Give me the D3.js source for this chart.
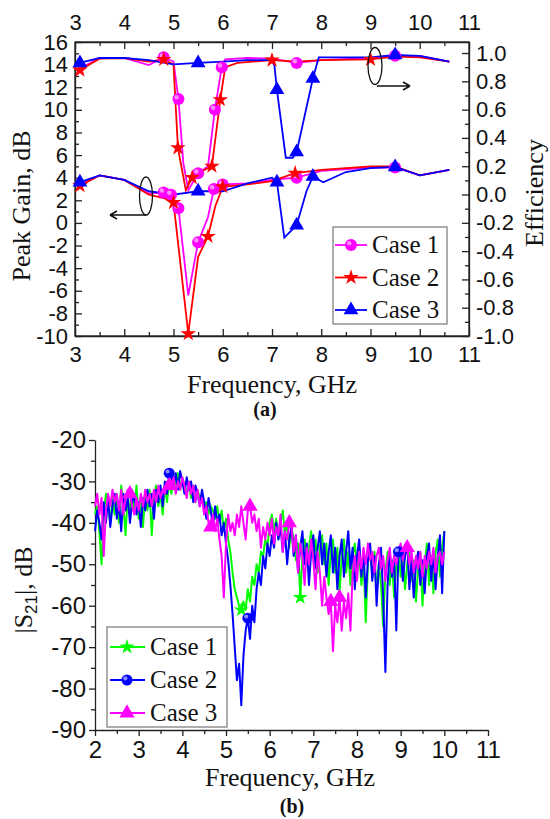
<!DOCTYPE html>
<html>
<head>
<meta charset="utf-8">
<script src="https://cdn.jsdelivr.net/npm/d3@7"></script>
<style>
body { margin: 0; background: #fff; }
</style>
</head>
<body>
<svg width="550" height="819"></svg>
<script>
// ---- data, panel (a): [GHz, value, marker?] ----
var effCase1 = [[3.1,0.89],[3.5,0.965],[4.0,0.965],[4.5,0.915],[4.8,0.97,1],[5.0,0.94],[5.1,0.675,1],[5.2,0.22],[5.3,0.03],
    [5.5,0.15,1],[5.7,0.2],[5.84,0.6,1],[5.98,0.9,1],[6.05,0.955],[6.5,0.965],[7.0,0.96],[7.5,0.93,1],[8.0,0.95],
    [9.0,0.965],[9.5,0.98,1],[10.0,0.98],[10.6,0.94]];
var effCase2 = [[3.1,0.88,1],[3.5,0.96],[4.0,0.965],[4.5,0.94],[4.8,0.955,1],[5.0,0.92],[5.09,0.33,1],[5.25,0.03],
    [5.38,0.12,1],[5.55,0.16],[5.78,0.2,1],[5.95,0.67,1],[6.05,0.9],[6.3,0.93],[7.0,0.95,1],[7.5,0.94],[8.0,0.95],
    [9.0,0.955,1],[9.5,0.975],[10.0,0.97],[10.6,0.94]];
var effCase3 = [[3.1,0.93,1],[3.5,0.965],[4.0,0.965],[4.5,0.95],[5.0,0.92],[5.5,0.93,1],[6.0,0.94],[6.5,0.95],[7.0,0.95],
    [7.05,0.91],[7.1,0.74,1],[7.28,0.26],[7.42,0.26],[7.5,0.3,1],[7.83,0.82,1],[7.95,0.97],[8.5,0.97],[9.0,0.97],
    [9.5,0.986,1],[10.0,0.98],[10.6,0.94]];

var gainCase1 = [[3.1,3.4],[3.5,4.2],[4.0,3.8],[4.5,2.6],[4.8,2.7,1],[4.95,2.5,1],[5.1,1.3,1],[5.3,-6.4],[5.5,-1.7,1],
    [5.7,0.5],[5.82,3.0,1],[6.0,3.4,1],[6.5,3.5],[7.0,3.8],[7.5,4.0,1],[8.0,4.6],[9.0,4.9],[9.5,4.9,1],[10.0,4.2],[10.6,4.7]];
var gainCase2 = [[3.1,3.3,1],[3.5,4.2],[4.0,3.8],[4.5,2.5],[4.8,2.2],[5.0,1.8,1],[5.3,-9.8,1],[5.5,-3.0],[5.7,-1.2,1],
    [5.85,1.5],[6.0,3.2,1],[6.5,3.4],[7.0,3.7],[7.47,4.4,1],[8.0,4.7],[9.0,5.0],[9.5,5.0],[10.0,4.2],[10.6,4.7]];
var gainCase3 = [[3.1,3.6,1],[3.5,4.2],[4.0,3.8],[4.5,2.8],[5.0,2.5],[5.5,2.8,1],[6.0,2.8],[6.5,3.5],[7.0,4.0],
    [7.1,3.6,1],[7.25,-1.3],[7.5,-0.2,1],[7.7,2.8],[7.83,4.1,1],[8.04,3.6],[8.5,4.5],[9.0,4.85],[9.5,4.95,1],[10.0,4.2],[10.6,4.7]];

var xTicksA = [3, 4, 5, 6, 7, 8, 9, 10, 11];
var gainTicks = [-10, -8, -6, -4, -2, 0, 2, 4, 6, 8, 10, 12, 14, 16];
var effTicks = [-1.0, -0.8, -0.6, -0.4, -0.2, 0.0, 0.2, 0.4, 0.6, 0.8, 1.0];
var legendA = ["Case 1", "Case 2", "Case 3"];

// ---- data, panel (b): |S21| in dB, sampled every 0.05 GHz from 2 GHz ----
var s21Start = 2.0, s21Step = 0.05;
var s21Case1 = [-38,-36,-42,-50,-38,-33,-36,-40,-34,-38,-33,-40,-31,-36,-43,-33,-38,-32,-37,-31,
    -39,-35,-41,-33,-37,-32,-43,-34,-31,-36,-33,-38,-31,-35,-30,-33,-29,-31,-28,-32,
    -29,-31,-33,-30,-34,-31,-35,-32,-34,-33,-36,-35,-38,-36,-37,-39,-36,-40,-37,-42,
    -39,-44,-47,-52,-56,-58,-60,-61,-59,-61,-56,-59,-53,-55,-50,-52,-47,-48,-44,-46,
    -40,-38,-42,-39,-44,-40,-37,-43,-40,-46,-41,-44,-49,-45,-58,-48,-44,-50,-46,-42,
    -48,-44,-52,-46,-43,-50,-45,-55,-47,-44,-52,-46,-57,-48,-44,-52,-47,-55,-48,-45,
    -51,-47,-55,-49,-64,-50,-46,-53,-47,-57,-50,-55,-65,-52,-47,-55,-49,-58,-50,-46,
    -53,-48,-56,-50,-46,-54,-49,-59,-51,-47,-60,-50,-45,-55,-48,-57,-47,-44,-53,-46,-42];
var s21Case2 = [-42,-37,-40,-44,-35,-40,-34,-41,-36,-33,-39,-35,-42,-33,-37,-34,-40,-35,-33,-38,
    -35,-41,-34,-37,-32,-36,-33,-39,-32,-35,-31,-36,-30,-33,-28,-29,-31,-28,-32,-27.5,
    -30,-33,-29,-32,-30,-35,-31,-33,-36,-32,-35,-39,-34,-37,-41,-36,-40,-38,-43,-40,
    -45,-49,-55,-62,-70,-78,-74,-84,-72,-66,-63,-68,-60,-64,-56,-52,-55,-48,-51,-45,
    -48,-43,-46,-40,-44,-41,-47,-42,-50,-44,-41,-48,-43,-52,-46,-42,-50,-45,-55,-47,
    -43,-51,-46,-42,-50,-45,-53,-47,-43,-52,-46,-56,-48,-44,-53,-47,-42,-51,-46,-56,
    -48,-44,-53,-47,-58,-49,-45,-54,-48,-60,-50,-46,-58,-76,-55,-47,-53,-48,-66,-47,
    -46,-54,-48,-45,-56,-49,-58,-50,-47,-55,-49,-57,-48,-45,-54,-47,-56,-48,-43,-57,-42];
var s21Case3 = [-36,-33,-38,-34,-48,-37,-33,-36,-32,-35,-33,-37,-32,-38,-34,-32,-33,-36,-38,-34,
    -37,-33,-36,-32,-35,-33,-36,-32,-35,-31,-34,-32,-33,-30,-31,-31,-29,-33,-30,-32,
    -29,-31,-34,-30,-33,-31,-35,-32,-36,-34,-38,-36,-40,-41,-38,-42,-39,-44,-48,-58,
    -45,-38,-42,-40,-43,-38,-41,-36,-40,-44,-37,-36,-40,-38,-42,-39,-46,-41,-44,-40,
    -43,-39,-45,-41,-43,-38,-47,-42,-44,-40,-41,-47,-43,-52,-45,-48,-55,-46,-50,-44,
    -49,-56,-47,-52,-60,-53,-58,-62,-59,-71,-60,-64,-58,-66,-59,-63,-57,-66,-52,-48,
    -54,-47,-51,-46,-50,-45,-49,-47,-52,-48,-46,-51,-48,-54,-49,-46,-52,-48,-50,-47,
    -45,-49,-46,-46,-50,-47,-52,-48,-51,-47,-53,-48,-51,-47,-50,-46,-52,-48,-47,-50,-47];
var s21Marks1 = [5.35, 6.7];
var s21Marks2 = [3.7, 5.5, 8.95];
var s21Marks3 = [2.8, 3.7, 4.65, 5.55, 6.45, 7.4, 7.6, 9.15];

var xTicksB = [2, 3, 4, 5, 6, 7, 8, 9, 10, 11];
var s21Ticks = [-90, -80, -70, -60, -50, -40, -30, -20];
var legendB = ["Case 1", "Case 2", "Case 3"];

var svg = d3.select("svg");
var sansFont = "'Liberation Sans', Arial, sans-serif";
var serifFont = "'Liberation Serif', 'Times New Roman', serif";
var axisColor = "#222";
var hyphen = f => (d => f(d).replace("\u2212", "-"));

function halfSteps(lo, hi, step) {
    var out = [];
    for (var v = lo + step / 2; v < hi; v += step) out.push(v);
    return out;
}

function styleAxis(g, size) {
    g.attr("font-family", sansFont).attr("font-size", size);
    g.selectAll("path, line").attr("stroke", axisColor).attr("stroke-width", 1.3);
    g.selectAll("text").attr("fill", "#111");
}

function marker(g, type, color, x, y, size) {
    if (type === "circle") {
        g.append("circle").attr("cx", x).attr("cy", y).attr("r", size).attr("fill", color);
        g.append("circle").attr("cx", x - size * 0.3).attr("cy", y - size * 0.3).attr("r", size * 0.38)
            .attr("fill", "#fff").attr("opacity", 0.55);
    } else {
        var sym = type === "star" ? d3.symbolStar : d3.symbolTriangle;
        g.append("path").attr("d", d3.symbol(sym, size)()).attr("transform", "translate(" + x + "," + y + ")")
            .attr("fill", color);
    }
}

// ================= panel (a) =================
var xA = d3.scaleLinear().domain([3, 11]).range([75, 469]);
var yGain = d3.scaleLinear().domain([-10, 16]).range([336, 42]);
var yEff = d3.scaleLinear().domain([-1, 1.078]).range([336, 42]);

// ticks inside the frame
var axA = [
    [d3.axisBottom(xA).tickValues(xTicksA), "translate(0,336)", halfSteps(3, 11, 1), 10],
    [d3.axisTop(xA).tickValues(xTicksA), "translate(0,42)", halfSteps(3, 11, 1), 12],
    [d3.axisLeft(yGain).tickValues(gainTicks).tickFormat(hyphen(d3.format("d"))), "translate(75,0)", halfSteps(-10, 16, 2), 7],
    [d3.axisRight(yEff).tickValues(effTicks).tickFormat(hyphen(d3.format(".1f"))), "translate(469,0)", halfSteps(-1, 1.0001, 0.2), 7]
];
axA.forEach(function (a) {
    var g = svg.append("g").attr("transform", a[1])
        .call(a[0].tickSizeInner(-7).tickSizeOuter(0).tickPadding(a[3]));
    styleAxis(g, 22);
    var m = svg.append("g").attr("transform", a[1])
        .call(a[0].tickValues(a[2]).tickSizeInner(-4).tickFormat(""));
    styleAxis(m, 22);
    m.select(".domain").remove();
});
svg.append("rect").attr("x", 75).attr("y", 42).attr("width", 394).attr("height", 294)
    .attr("fill", "none").attr("stroke", axisColor).attr("stroke-width", 1.3);

var lineEff = d3.line().x(d => xA(d[0])).y(d => yEff(d[1]));
var lineGain = d3.line().x(d => xA(d[0])).y(d => yGain(d[1]));

var seriesA = [
    { eff: effCase1, gain: gainCase1, color: "#ff00ff", type: "circle", size: 6 },
    { eff: effCase2, gain: gainCase2, color: "#ff0000", type: "star", size: 75 },
    { eff: effCase3, gain: gainCase3, color: "#0000ff", type: "triangle", size: 95 }
];
seriesA.forEach(function (s) {
    svg.append("path").attr("d", lineEff(s.eff)).attr("fill", "none").attr("stroke", s.color).attr("stroke-width", 1.8);
    svg.append("path").attr("d", lineGain(s.gain)).attr("fill", "none").attr("stroke", s.color).attr("stroke-width", 1.8);
});
seriesA.forEach(function (s) {
    var g = svg.append("g");
    s.eff.filter(d => d[2]).forEach(d => marker(g, s.type, s.color, xA(d[0]), yEff(d[1]), s.size));
    s.gain.filter(d => d[2]).forEach(d => marker(g, s.type, s.color, xA(d[0]), yGain(d[1]), s.size));
});

// axis-pointer ellipses
svg.append("ellipse").attr("cx", 146).attr("cy", 196).attr("rx", 6.5).attr("ry", 19)
    .attr("fill", "none").attr("stroke", "#111").attr("stroke-width", 1.3);
svg.append("path").attr("d", "M146,215H110M110,215l7,-4M110,215l7,4")
    .attr("fill", "none").attr("stroke", "#111").attr("stroke-width", 1.5);
svg.append("ellipse").attr("cx", 375).attr("cy", 66).attr("rx", 7).attr("ry", 18.5)
    .attr("fill", "none").attr("stroke", "#111").attr("stroke-width", 1.3);
svg.append("path").attr("d", "M377,86H410M410,86l-7,-4M410,86l-7,4")
    .attr("fill", "none").attr("stroke", "#111").attr("stroke-width", 1.5);

// legend (a)
svg.append("rect").attr("x", 333).attr("y", 227).attr("width", 114).attr("height", 97)
    .attr("fill", "#fff").attr("stroke", "#777").attr("stroke-width", 1.2);
seriesA.forEach(function (s, i) {
    var y = 245 + i * 32.5;
    svg.append("line").attr("x1", 335).attr("x2", 367).attr("y1", y).attr("y2", y)
        .attr("stroke", s.color).attr("stroke-width", 1.8);
    marker(svg.append("g"), s.type, s.color, 351, y, s.size);
    svg.append("text").attr("x", 372).attr("y", y + 8).attr("font-family", serifFont)
        .attr("font-size", 25).attr("fill", "#111").text(legendA[i]);
});

// titles (a)
svg.append("text").attr("x", 272).attr("y", 393).attr("text-anchor", "middle")
    .attr("font-family", serifFont).attr("font-size", 26).attr("fill", "#111").text("Frequency, GHz");
svg.append("text").attr("transform", "translate(30,206) rotate(-90)").attr("text-anchor", "middle")
    .attr("font-family", serifFont).attr("font-size", 26).attr("fill", "#111").text("Peak Gain, dB");
svg.append("text").attr("transform", "translate(543,193) rotate(-90)").attr("text-anchor", "middle")
    .attr("font-family", serifFont).attr("font-size", 26).attr("fill", "#111").text("Efficiency");
svg.append("text").attr("x", 265).attr("y", 416).attr("text-anchor", "middle")
    .attr("font-family", serifFont).attr("font-size", 20).attr("font-weight", "bold").attr("fill", "#111").text("(a)");

// ================= panel (b) =================
var xB = d3.scaleLinear().domain([2, 11]).range([95, 488]);
var yB = d3.scaleLinear().domain([-90, -20]).range([730, 440]);

var gxB = svg.append("g").attr("transform", "translate(0,730)")
    .call(d3.axisBottom(xB).tickValues(xTicksB).tickSizeInner(6).tickSizeOuter(0).tickPadding(5));
styleAxis(gxB, 24);
var gxBm = svg.append("g").attr("transform", "translate(0,730)")
    .call(d3.axisBottom(xB).tickValues(halfSteps(2, 11, 1)).tickSizeInner(4).tickFormat(""));
styleAxis(gxBm, 24);
gxBm.select(".domain").remove();

var gyB = svg.append("g").attr("transform", "translate(95,0)")
    .call(d3.axisLeft(yB).tickValues(s21Ticks).tickFormat(hyphen(d3.format("d")))
        .tickSizeInner(6).tickSizeOuter(0).tickPadding(3));
styleAxis(gyB, 24);
var gyBm = svg.append("g").attr("transform", "translate(95,0)")
    .call(d3.axisLeft(yB).tickValues(halfSteps(-90, -20, 10)).tickSizeInner(4).tickFormat(""));
styleAxis(gyBm, 24);
gyBm.select(".domain").remove();

var lineS21 = d3.line().x((d, i) => xB(s21Start + i * s21Step)).y(d => yB(d));
function s21At(vals, f) {
    return vals[Math.round((f - s21Start) / s21Step)];
}

var seriesB = [
    { vals: s21Case1, marks: s21Marks1, color: "#00ff00", type: "star", size: 70 },
    { vals: s21Case2, marks: s21Marks2, color: "#0000ff", type: "circle", size: 5.5 },
    { vals: s21Case3, marks: s21Marks3, color: "#ff00ff", type: "triangle", size: 100 }
];
seriesB.forEach(function (s) {
    svg.append("path").attr("d", lineS21(s.vals)).attr("fill", "none").attr("stroke", s.color)
        .attr("stroke-width", 2).attr("stroke-linejoin", "round");
});
seriesB.forEach(function (s) {
    var g = svg.append("g");
    s.marks.forEach(f => marker(g, s.type, s.color, xB(f), yB(s21At(s.vals, f)), s.size));
});

// legend (b)
svg.append("rect").attr("x", 107).attr("y", 627).attr("width", 120).attr("height", 100)
    .attr("fill", "#fff").attr("stroke", "#777").attr("stroke-width", 1.2);
seriesB.forEach(function (s, i) {
    var y = 647 + i * 33;
    svg.append("line").attr("x1", 110).attr("x2", 145).attr("y1", y).attr("y2", y)
        .attr("stroke", s.color).attr("stroke-width", 2);
    marker(svg.append("g"), s.type, s.color, 127, y, s.size);
    svg.append("text").attr("x", 150).attr("y", y + 8).attr("font-family", serifFont)
        .attr("font-size", 25).attr("fill", "#111").text(legendB[i]);
});

// titles (b)
svg.append("text").attr("x", 290).attr("y", 786).attr("text-anchor", "middle")
    .attr("font-family", serifFont).attr("font-size", 26).attr("fill", "#111").text("Frequency, GHz");
var yt = svg.append("text").attr("transform", "translate(32,590) rotate(-90)").attr("text-anchor", "middle")
    .attr("font-family", serifFont).attr("font-size", 26).attr("fill", "#111");
yt.append("tspan").text("|S");
yt.append("tspan").attr("font-size", 17).attr("font-family", sansFont).attr("dy", 5).text("21");
yt.append("tspan").attr("dy", -5).text("|, dB");
svg.append("text").attr("x", 292).attr("y", 813).attr("text-anchor", "middle")
    .attr("font-family", serifFont).attr("font-size", 20).attr("font-weight", "bold").attr("fill", "#111").text("(b)");
</script>
</body>
</html>
